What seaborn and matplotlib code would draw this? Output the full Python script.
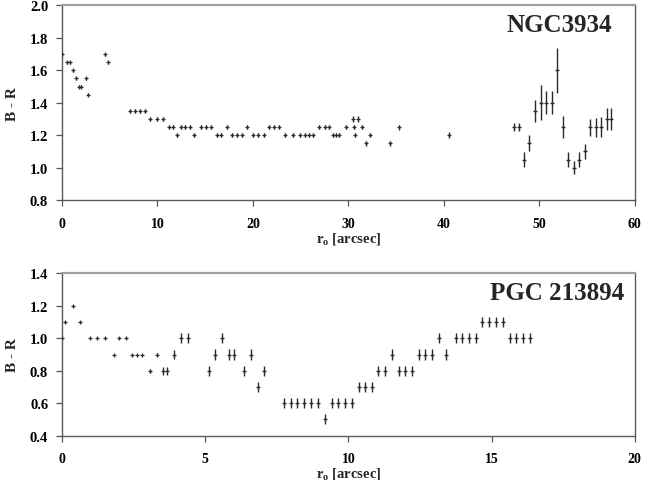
import numpy as np
import pandas as pd
import matplotlib
matplotlib.use("Agg")
import matplotlib.pyplot as plt
import seaborn as sns

# ---- NGC3934 ----
ngc_r = [0.0, 0.5, 0.8, 1.15, 1.47, 1.74, 2.0, 2.48, 2.76, 4.47, 4.85,
         7.09, 7.61, 8.14, 8.66, 9.25, 9.95, 10.6, 11.17, 11.59, 12.04, 12.46,
         12.91, 13.37, 13.86, 14.52, 15.08, 15.64, 16.23, 16.68, 17.31, 17.84,
         18.36, 18.88, 19.40, 19.99, 20.56, 21.12, 21.7, 22.2, 22.7, 23.4,
         24.2, 24.9, 25.45, 25.9, 26.3, 26.87, 27.6, 28.0, 28.4, 28.7, 29.0,
         29.7, 30.5, 30.6, 30.7, 30.96, 31.4, 31.8, 32.3, 34.4, 35.25, 40.55,
         47.3, 47.85, 48.4, 48.97, 49.56, 50.16, 50.75, 51.3, 51.87, 52.46,
         53.05, 53.6, 54.17, 54.75, 55.36, 55.94, 56.5, 57.1, 57.5]
ngc_br = [1.70, 1.65, 1.65, 1.60, 1.55, 1.50, 1.50, 1.55, 1.45, 1.70, 1.65,
          1.35, 1.35, 1.35, 1.35, 1.30, 1.30, 1.30, 1.25, 1.25, 1.20, 1.25,
          1.25, 1.25, 1.20, 1.25, 1.25, 1.25, 1.20, 1.20, 1.25, 1.20,
          1.20, 1.20, 1.25, 1.20, 1.20, 1.20, 1.25, 1.25, 1.25, 1.20,
          1.20, 1.20, 1.20, 1.20, 1.20, 1.25, 1.25, 1.25, 1.20, 1.20, 1.20,
          1.25, 1.30, 1.25, 1.20, 1.30, 1.25, 1.15, 1.20, 1.15, 1.25, 1.20,
          1.25, 1.25, 1.05, 1.15, 1.35, 1.40, 1.40, 1.40, 1.60, 1.25,
          1.05, 1.00, 1.05, 1.10, 1.25, 1.25, 1.25, 1.30, 1.30]
ngc_err = [0.01] * 11 + [0.012] * 43 + [0.02, 0.012, 0.012, 0.02, 0.014, 0.015,
           0.014, 0.015, 0.015, 0.017,
           0.025, 0.025, 0.045, 0.05, 0.067, 0.108, 0.072, 0.07, 0.14, 0.068,
           0.048, 0.04, 0.044, 0.047, 0.053, 0.058, 0.06, 0.068, 0.068]

# ---- PGC 213894 ----
pgc_r = [0.0, 0.116, 0.384, 0.628, 0.977, 1.23, 1.50, 1.80, 1.98, 2.23,
         2.45, 2.62, 2.80, 3.08, 3.30, 3.51, 3.65, 3.90, 4.15, 4.41,
         5.12, 5.34, 5.57, 5.82, 6.0, 6.35, 6.59, 6.83, 7.04,
         7.75, 7.98, 8.21, 8.45, 8.68, 8.94, 9.17, 9.41, 9.65, 9.88, 10.12,
         10.36, 10.59, 10.82, 11.05, 11.29, 11.53, 11.75, 11.99, 12.22,
         12.46, 12.69, 12.93, 13.16, 13.40, 13.75, 13.98, 14.22, 14.45,
         14.68, 14.92, 15.15, 15.39, 15.63, 15.86, 16.09, 16.34]
pgc_br = [1.0, 1.1, 1.2, 1.1, 1.0, 1.0, 1.0, 0.9, 1.0, 1.0,
          0.9, 0.9, 0.9, 0.8, 0.9, 0.8, 0.8, 0.9, 1.0, 1.0,
          0.8, 0.9, 1.0, 0.9, 0.9, 0.8, 0.9, 0.7, 0.8,
          0.6, 0.6, 0.6, 0.6, 0.6, 0.6, 0.5, 0.6, 0.6, 0.6, 0.6,
          0.7, 0.7, 0.7, 0.8, 0.8, 0.9, 0.8, 0.8, 0.8,
          0.9, 0.9, 0.9, 1.0, 0.9, 1.0, 1.0, 1.0, 1.0,
          1.1, 1.1, 1.1, 1.1, 1.0, 1.0, 1.0, 1.0]
pgc_err = [0.006] * 13 + [0.012, 0.012, 0.025, 0.025, 0.025, 0.03, 0.03] + [0.031] * 46

titles = ["NGC3934", "PGC 213894"]
xlabel = "r$_\\mathrm{o}$ [arcsec]"
ylabel = "B - R"

sns.set_style("ticks")
plt.rcParams["font.family"] = ["Liberation Serif", "DejaVu Serif"]
plt.rcParams["font.weight"] = "bold"
plt.rcParams["mathtext.fontset"] = "custom"
plt.rcParams["mathtext.rm"] = "Liberation Serif:bold"
plt.rcParams["mathtext.it"] = "Liberation Serif:bold"

fig = plt.figure(figsize=(6.64, 4.81), dpi=100)
ax1 = fig.add_axes([0.0934, 0.582, 0.8626, 0.4045])
ax2 = fig.add_axes([0.0934, 0.0921, 0.8626, 0.3376])

df1 = pd.DataFrame({"r": ngc_r, "br": ngc_br, "err": ngc_err})
df2 = pd.DataFrame({"r": pgc_r, "br": pgc_br, "err": pgc_err})

mcol = "#2a2a2a"
for ax, df, title, xlim, ylim, xt, yt, tpos in [
    (ax1, df1, titles[0], (0, 60), (0.8, 2.0), np.arange(0, 61, 10), np.arange(0.8, 2.01, 0.2), (0.96, 0.90)),
    (ax2, df2, titles[1], (0, 20), (0.4, 1.4), np.arange(0, 21, 5), np.arange(0.4, 1.41, 0.2), (0.981, 0.88)),
]:
    ax.errorbar(df["r"], df["br"], yerr=df["err"], fmt="none", ecolor=mcol,
                elinewidth=1.0, capsize=0, zorder=2)
    sns.scatterplot(data=df, x="r", y="br", marker="+", s=8, color=mcol,
                    linewidth=0.9, ax=ax, zorder=3, legend=False)
    ax.set_xlim(*xlim)
    ax.set_ylim(*ylim)
    ax.set_xticks(xt)
    ax.set_yticks(yt)
    ax.set_xticklabels([f"{v:g}" for v in xt])
    ax.set_yticklabels([f"{v:.1f}" for v in yt])
    ax.tick_params(axis="x", direction="out", length=4, width=0.9, pad=8,
                   labelsize=10, colors="#555555", labelcolor="black")
    ax.tick_params(axis="y", direction="out", length=4, width=0.9, pad=6,
                   labelsize=10.5, colors="#555555", labelcolor="black")
    for lab in ax.get_xticklabels() + ax.get_yticklabels():
        lab.set_fontweight("bold")
    ax.set_xlabel(xlabel, fontsize=10.5, fontweight="bold", labelpad=0)
    ax.set_ylabel(ylabel, fontsize=11, fontweight="bold", labelpad=8)
    for side in ["left", "bottom", "right"]:
        ax.spines[side].set_color("#5a5a5a")
        ax.spines[side].set_linewidth(1.0)
    ax.spines["top"].set_color("#a0a0a0")
    ax.spines["top"].set_linewidth(1.6)
    ax.text(tpos[0], tpos[1], title, transform=ax.transAxes, ha="right",
            va="center", fontsize=18, fontweight="bold")

fig.savefig("out.png", dpi=100)
